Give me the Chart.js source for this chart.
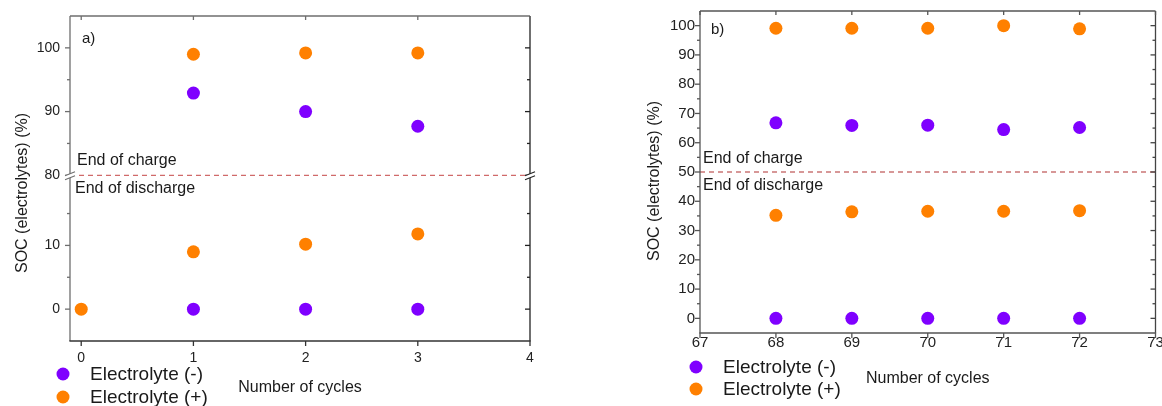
<!DOCTYPE html>
<html><head><meta charset="utf-8">
<script src="https://cdn.jsdelivr.net/npm/chart.js@4.4.1/dist/chart.umd.min.js"></script>
<style>
html,body{margin:0;padding:0;background:#fff;overflow:hidden;width:1162px;height:406px}
canvas{position:absolute;top:0}
#ca{left:0}
#cb{left:600px}
</style></head><body>
<canvas id="ca" width="580" height="406"></canvas>
<canvas id="cb" width="562" height="406"></canvas>
<script>
const FONT = "'Liberation Sans', Arial, sans-serif";
const PURPLE = '#7f00ff';
const ORANGE = '#ff8000';
const seriesNames = ['Electrolyte (-)', 'Electrolyte (+)'];

// ---- Panel a) data ----
const cyclesA = [0, 1, 2, 3];
const negChargeA = [null, 92.9, 90.0, 87.7];
const posChargeA = [null, 99.0, 99.2, 99.2];
const negDischargeA = [null, 0, 0, 0];
const posDischargeA = [0, 9.0, 10.2, 11.8];
const xTicksA = [0, 1, 2, 3, 4];
const yHighTicksA = [80, 90, 100];
const yHighMinorA = [85, 95];
const yLowTicksA = [0, 10];
const yLowMinorA = [5, 15];
const thresholdA = 80;

// ---- Panel b) data ----
const cyclesB = [68, 69, 70, 71, 72];
const negChargeB = [66.8, 65.9, 66.0, 64.5, 65.2];
const posChargeB = [99.1, 99.1, 99.1, 100.0, 98.9];
const negDischargeB = [0, 0, 0, 0, 0];
const posDischargeB = [35.2, 36.4, 36.6, 36.6, 36.8];
const xTicksB = [67, 68, 69, 70, 71, 72, 73];
const yTicksB = [0, 10, 20, 30, 40, 50, 60, 70, 80, 90, 100];
const yMinorB = [5, 15, 25, 35, 45, 55, 65, 75, 85, 95];
const thresholdB = 50;

function pts(xs, ys) { return xs.map((x, i) => ({x: x, y: ys[i]})).filter(p => p.y !== null); }
function ds(label, color, data, yAxisID) {
  return {label, data, yAxisID, backgroundColor: color, borderColor: color, borderWidth: 0,
    pointRadius: 6.5, pointHoverRadius: 6.5, showLine: false};
}
function fixTicks(values) { return s => { s.ticks = values.map(v => ({value: v})); }; }
function tickOpts(size, padding) {
  return {font: {family: FONT, size: size}, color: '#222', padding: padding, autoSkip: false, maxRotation: 0, minRotation: 0};
}
function yFit(w) { return s => { s.width = w; s.paddingTop = 0; s.paddingBottom = 0; }; }
function xFit(h) { return s => { s.height = h; s.paddingLeft = 0; s.paddingRight = 0; }; }

const decor = {
  id: 'decor',
  beforeDatasetsDraw(chart, args, o) {
    const ctx = chart.ctx, a = chart.chartArea;
    const ty = chart.scales[o.thresholdAxis].getPixelForValue(o.threshold);
    ctx.save();
    ctx.strokeStyle = o.dashColor; ctx.lineWidth = 1.2; ctx.setLineDash([5, 4]);
    ctx.beginPath(); ctx.moveTo(a.left, ty); ctx.lineTo(a.right, ty); ctx.stroke();
    ctx.restore();
  },
  afterDraw(chart, args, o) {
    const ctx = chart.ctx, a = chart.chartArea;
    const ln = (x1, y1, x2, y2, c, w) => {
      ctx.strokeStyle = c; ctx.lineWidth = w || 1.3;
      ctx.beginPath(); ctx.moveTo(x1, y1); ctx.lineTo(x2, y2); ctx.stroke();
    };
    ctx.save();
    // frame
    ln(a.left, a.top, a.left, a.bottom, o.leftColor);
    ln(a.left, a.top, a.right, a.top, o.topColor);
    ln(a.right, a.top, a.right, a.bottom, o.rightColor);
    ln(a.left - 0.6, a.bottom, a.right + 0.6, a.bottom, o.bottomColor);
    // y ticks
    o.yTicks.forEach(t => {
      const sc = chart.scales[t.id];
      t.major.forEach(v => {
        const y = sc.getPixelForValue(v);
        ln(a.left - 5, y, a.left, y, o.leftColor);
        ln(a.right - 5, y, a.right, y, o.rightColor);
      });
      t.minor.forEach(v => {
        const y = sc.getPixelForValue(v);
        ln(a.left - 3, y, a.left, y, o.leftColor);
        ln(a.right - 3, y, a.right, y, o.rightColor);
      });
    });
    // x ticks
    const xs = chart.scales.x;
    o.xTicks.forEach(v => {
      const x = xs.getPixelForValue(v);
      ln(x, a.bottom, x, a.bottom + 5, o.bottomColor);
      ln(x, a.top, x, a.top + 4, o.topColor);
    });
    const ty = chart.scales[o.thresholdAxis].getPixelForValue(o.threshold);
    // axis break marks
    if (o.axisBreak) {
      [a.left, a.right].forEach((x, i) => {
        const c = i === 0 ? o.leftColor : o.rightColor;
        ctx.fillStyle = '#fff';
        ctx.beginPath();
        ctx.moveTo(x - 5, ty + 0.5); ctx.lineTo(x + 5, ty - 3.5);
        ctx.lineTo(x + 5, ty + 0.5); ctx.lineTo(x - 5, ty + 4.5); ctx.closePath(); ctx.fill();
        ln(x - 5, ty + 0.5, x + 5, ty - 3.5, c, 1.1);
        ln(x - 5, ty + 4.5, x + 5, ty + 0.5, c, 1.1);
      });
    }
    // texts
    ctx.fillStyle = '#1a1a1a';
    ctx.textBaseline = 'middle'; ctx.textAlign = 'left';
    ctx.font = '15px ' + FONT;
    ctx.fillText(o.panelLabel, a.left + o.panelDx, a.top + o.panelDy);
    ctx.font = '16px ' + FONT;
    ctx.fillText('End of charge', a.left + o.chargeDx, ty + o.chargeDy);
    ctx.fillText('End of discharge', a.left + o.dischargeDx, ty + o.dischargeDy);
    // y title
    ctx.save();
    ctx.translate(o.yTitleX, o.yTitleY);
    ctx.rotate(-Math.PI / 2);
    ctx.textAlign = 'center';
    ctx.font = '16px ' + FONT;
    ctx.fillText('SOC (electrolytes) (%)', 0, 0);
    ctx.restore();
    // legend
    const colors = [PURPLE, ORANGE];
    ctx.font = '19px ' + FONT;
    seriesNames.forEach((name, i) => {
      const y = o.legendY + i * o.legendGap;
      ctx.fillStyle = colors[i];
      ctx.beginPath(); ctx.arc(o.legendX, y, 6.5, 0, Math.PI * 2); ctx.fill();
      ctx.fillStyle = '#1a1a1a';
      ctx.fillText(name, o.legendX + 27, y + 1);
    });
    ctx.restore();
  }
};

// ---- Chart a ----
new Chart(document.getElementById('ca'), {
  type: 'scatter',
  data: {
    datasets: [
      ds(seriesNames[1], ORANGE, pts(cyclesA, posChargeA), 'yHigh'),
      ds(seriesNames[0], PURPLE, pts(cyclesA, negChargeA), 'yHigh'),
      ds(seriesNames[1], ORANGE, pts(cyclesA, posDischargeA), 'yLow'),
      ds(seriesNames[0], PURPLE, pts(cyclesA, negDischargeA), 'yLow')
    ]
  },
  options: {
    responsive: false, animation: false, events: [],
    layout: {padding: {top: 16, right: 50, left: 0, bottom: 0}},
    scales: {
      x: {type: 'linear', min: -0.1, max: 4, afterBuildTicks: fixTicks(xTicksA), afterFit: xFit(65),
        grid: {display: false, drawTicks: false}, border: {display: false},
        ticks: tickOpts(14, 9),
        title: {display: true, text: 'Number of cycles', font: {family: FONT, size: 16}, color: '#1a1a1a', padding: {top: 0, bottom: 9}}},
      yLow: {type: 'linear', position: 'left', stack: 'a', stackWeight: 26, min: -5, max: 21,
        afterBuildTicks: fixTicks(yLowTicksA), afterFit: yFit(70),
        grid: {display: false, drawTicks: false}, border: {display: false}, ticks: tickOpts(14, 10)},
      yHigh: {type: 'linear', position: 'left', stack: 'a', stackWeight: 25, min: 80, max: 105,
        afterBuildTicks: fixTicks(yHighTicksA), afterFit: yFit(70),
        grid: {display: false, drawTicks: false}, border: {display: false}, ticks: tickOpts(14, 10)}
    },
    plugins: {
      legend: {display: false}, tooltip: {enabled: false},
      decor: {
        threshold: thresholdA, thresholdAxis: 'yHigh', dashColor: 'rgba(200,80,80,0.85)', axisBreak: true,
        leftColor: '#6e6e6e', topColor: '#6e6e6e', rightColor: '#222', bottomColor: '#333',
        yTicks: [{id: 'yHigh', major: yHighTicksA, minor: yHighMinorA}, {id: 'yLow', major: yLowTicksA, minor: yLowMinorA}],
        xTicks: xTicksA,
        panelLabel: 'a)', panelDx: 12, panelDy: 23,
        chargeDx: 7, chargeDy: -15, dischargeDx: 5, dischargeDy: 13,
        yTitleX: 23, yTitleY: 193,
        legendX: 63, legendY: 374, legendGap: 23
      }
    }
  },
  plugins: [decor]
});

// ---- Chart b ----
new Chart(document.getElementById('cb'), {
  type: 'scatter',
  data: {
    datasets: [
      ds(seriesNames[1], ORANGE, pts(cyclesB, posChargeB), 'y'),
      ds(seriesNames[0], PURPLE, pts(cyclesB, negChargeB), 'y'),
      ds(seriesNames[1], ORANGE, pts(cyclesB, posDischargeB), 'y'),
      ds(seriesNames[0], PURPLE, pts(cyclesB, negDischargeB), 'y')
    ]
  },
  options: {
    responsive: false, animation: false, events: [],
    layout: {padding: {top: 11, right: 6, left: 0, bottom: 0}},
    scales: {
      x: {type: 'linear', min: 67, max: 73, afterBuildTicks: fixTicks(xTicksB), afterFit: xFit(73),
        grid: {display: false, drawTicks: false}, border: {display: false},
        ticks: tickOpts(15, 1),
        title: {display: true, text: 'Number of cycles', font: {family: FONT, size: 16}, color: '#1a1a1a', padding: {top: 0, bottom: 18}}},
      y: {type: 'linear', position: 'left', min: -5, max: 105,
        afterBuildTicks: fixTicks(yTicksB), afterFit: yFit(100),
        grid: {display: false, drawTicks: false}, border: {display: false}, ticks: tickOpts(15, 5)}
    },
    plugins: {
      legend: {display: false}, tooltip: {enabled: false},
      decor: {
        threshold: thresholdB, thresholdAxis: 'y', dashColor: '#b03030', axisBreak: false,
        leftColor: '#555', topColor: '#555', rightColor: '#444', bottomColor: '#555',
        yTicks: [{id: 'y', major: yTicksB, minor: yMinorB}],
        xTicks: xTicksB,
        panelLabel: 'b)', panelDx: 11, panelDy: 19,
        chargeDx: 3, chargeDy: -13, dischargeDx: 3, dischargeDy: 14,
        yTitleX: 55, yTitleY: 181,
        legendX: 96, legendY: 367, legendGap: 22
      }
    }
  },
  plugins: [decor]
});
</script></body></html>
